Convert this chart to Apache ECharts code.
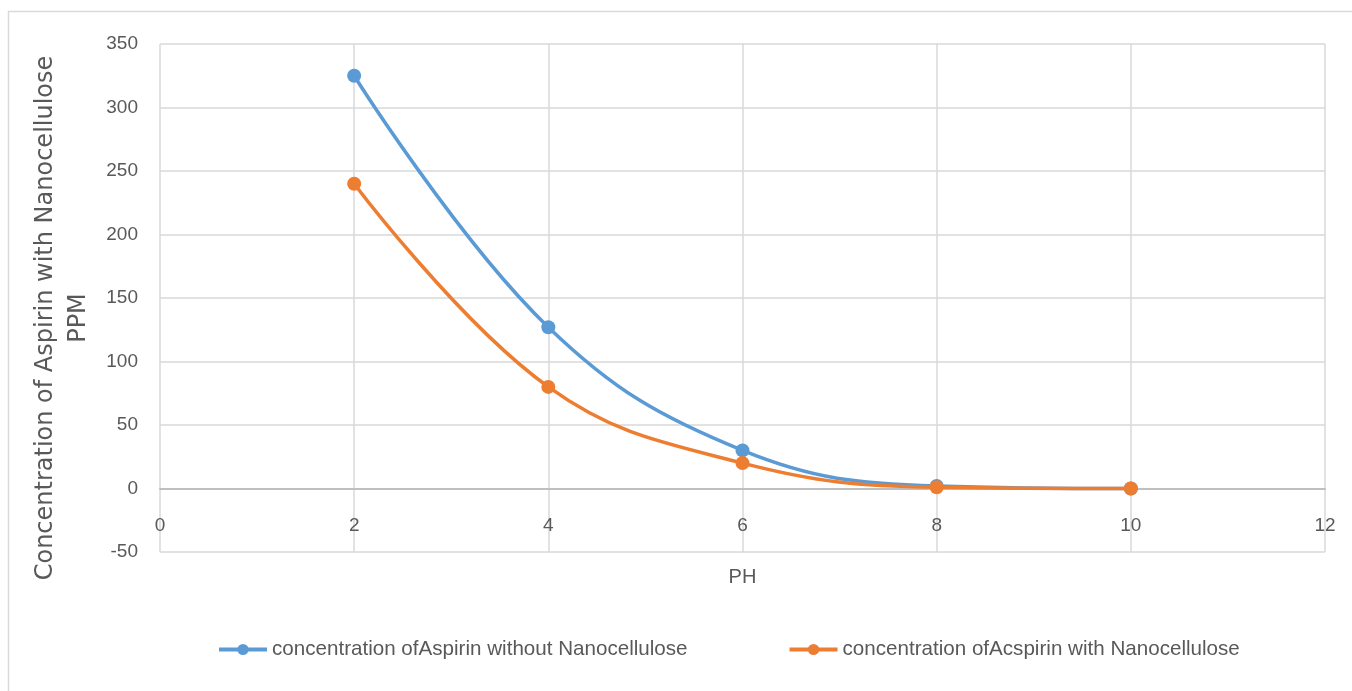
<!DOCTYPE html>
<html>
<head>
<meta charset="utf-8">
<script src="https://cdn.jsdelivr.net/npm/echarts@6/dist/echarts.min.js"></script>
<style>html,body{margin:0;padding:0;background:#fff}#c{width:1352px;height:691px}</style>
</head>
<body>
<div id="c"></div>
<script>
const phValues = [2, 4, 6, 8, 10];
const withoutNano = [325, 127, 30, 2, 0];
const withNano = [240, 80, 20, 1, 0];
const seriesNames = ['concentration ofAspirin without Nanocellulose', 'concentration ofAcspirin with Nanocellulose'];
const yTitle = 'Concentration of Aspirin with Nanocellulose\nPPM';
const xTitle = 'PH';

const chart = echarts.init(document.getElementById('c'));
const textColor = '#595959';
const tickFont = "'Liberation Sans', Arial, sans-serif";
chart.setOption({
  animation: false,
  backgroundColor: '#fff',
  graphic: [{
    type: 'rect', shape: {x: 8.5, y: 11.5, width: 1400, height: 700},
    style: {fill: 'none', stroke: '#d9d9d9', lineWidth: 1.5}, silent: true, z: -10
  }],
  grid: {left: 160, right: 27, top: 44, bottom: 139},
  legend: {
    bottom: 26, left: 212,
    itemWidth: 48, itemHeight: 14, itemGap: 100,
    lineStyle: {width: 4},
    textStyle: {color: textColor, fontSize: 20.6, fontFamily: "'Liberation Sans Narrow', 'Liberation Sans', sans-serif"},
    data: seriesNames
  },
  xAxis: {
    type: 'value', min: 0, max: 12, interval: 2,
    name: xTitle, nameLocation: 'middle', nameGap: 15,
    nameTextStyle: {color: textColor, fontSize: 20, fontFamily: tickFont},
    axisLine: {show: true, onZero: true, lineStyle: {color: '#bfbfbf', width: 2}},
    axisTick: {show: false},
    axisLabel: {color: textColor, fontSize: 19, fontFamily: tickFont, margin: -36},
    splitLine: {show: true, lineStyle: {color: '#d9d9d9', width: 1.5}}
  },
  yAxis: {
    type: 'value', min: -50, max: 350, interval: 50,
    name: yTitle, nameLocation: 'middle', nameGap: 64,
    nameTextStyle: {color: textColor, fontSize: 24, fontFamily: "'DejaVu Sans', sans-serif", lineHeight: 33, align: 'center', padding: [0, 40, 0, 0]},
    axisLine: {show: false},
    axisTick: {show: false},
    axisLabel: {color: textColor, fontSize: 19, fontFamily: tickFont, margin: 22},
    splitLine: {show: true, lineStyle: {color: '#d9d9d9', width: 1.5}}
  },
  series: [
    {
      name: seriesNames[0], type: 'line', smooth: 0.4,
      data: phValues.map((x, i) => [x, withoutNano[i]]),
      symbol: 'circle', symbolSize: 14,
      lineStyle: {color: '#5b9bd5', width: 3.5},
      itemStyle: {color: '#5b9bd5'}
    },
    {
      name: seriesNames[1], type: 'line', smooth: 0.4,
      data: phValues.map((x, i) => [x, withNano[i]]),
      symbol: 'circle', symbolSize: 14,
      lineStyle: {color: '#ed7d31', width: 3.5},
      itemStyle: {color: '#ed7d31'}
    }
  ]
});
</script>
</body>
</html>
